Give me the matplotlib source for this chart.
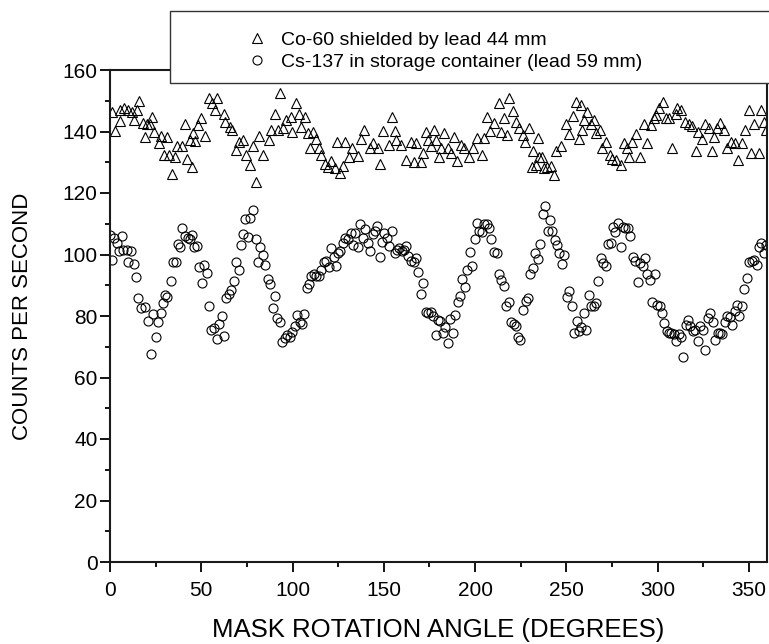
import matplotlib
matplotlib.use("Agg")
import matplotlib.pyplot as plt
import numpy as np
from matplotlib.patches import Rectangle
from matplotlib.ticker import MultipleLocator

plt.rcParams['font.family'] = ['Liberation Sans', 'DejaVu Sans']

# Co-60 shielded by lead 44 mm (angle in degrees, counts per second)
co_angle = [0.9, 2.7, 5.5, 5.5, 7.6, 10, 11.9, 13.3, 14.9, 16, 17.9, 19.1, 20, 21.9, 22.8, 24,
            26.9, 28.2, 29.5, 31.5, 32.3, 33.7, 35.5, 36.8, 39.2, 41, 42.3, 43.7, 44.7, 45.5,
            46.8, 48.3, 49.7, 51.9, 54.3, 56.1, 57.4, 58.8, 62.3, 62.9, 65.6, 67.1, 68.9, 70.8,
            72.7, 74.5, 76.6, 78.1, 80.2, 81.7, 83.9,
            87.1, 88.4, 90.2, 92.1, 93, 94.8, 96.6, 99.3, 99.9, 102, 103.5, 104.8, 106.6, 108.5,
            109.4, 111.2, 113, 114.5, 115.8, 117.6, 119.4, 121.2, 123.2, 124.3, 125.8, 127.6,
            128.5, 130.9, 132.7, 135.8, 137.6, 139.4, 142.2, 144, 146.7, 147.7, 149.5, 152.8,
            154.6, 155.9, 156.8, 159.5, 162.2, 165, 166.8, 167.7, 170.4,
            171.3, 173.2, 174.1, 175.9, 177.7, 178.6, 180.1, 181.4, 183.2, 185, 186.9, 188.7,
            190, 192.3, 194.2, 196.5, 198.7, 201, 203.8, 205.1, 206.4, 208.3, 210.6, 213, 214.2,
            216.1, 217.4, 218.8, 221, 222.4, 224.3, 226.4, 227.5, 229.7, 231.1, 231.9, 233.3,
            234.3, 234.8, 236.6, 237.9, 239.7, 241.6, 243.4, 244.4, 247.1, 249.8, 251.7, 253.9,
            255.3, 257.1,
            258, 258.9, 259.8, 261.6, 263.4, 265.3, 266.5, 268.4, 269.8, 271.6, 273.8, 275.3,
            277.4, 279.8, 281.6, 283.4, 284.4, 286.2, 288.4, 290.2, 292.6, 294.4, 296.2, 298.1,
            299.3, 300.8, 303, 304.8, 306.3, 308.1, 310, 310.9, 312.7, 315.1, 317.2, 319.1,
            320.9, 322.3, 324.5, 326.3, 328.2, 329.6, 330.9, 332.7, 334.5, 336.4, 338.2, 340,
            342.4, 344.2, 346.4, 348.2, 350.1, 351, 352.8, 355.6, 356.5, 358.3, 359.3]
co_counts = [146.4, 140.3, 146.9, 143.5, 147.5, 147.1, 146.4, 143.7, 147.1, 150, 142.9, 138.3,
             142.6, 142.6, 144.6, 139.9, 136.2, 138.6, 132.3, 138.1, 132.3, 126.3, 131.6, 135.2,
             135.2, 142.4, 131.2, 137.2, 128.3, 139.4, 137, 142.1, 144.3, 138.6, 151, 149.3,
             147.1, 151, 145.7, 143, 141.6, 140.5, 134, 136.5, 137.2, 132.5, 129.2, 135.2, 123.5,
             138.6, 132.5,
             137.2, 140.5, 145.7, 140.5, 152.4, 141, 143.8, 144.6, 139.9, 149.2, 145.7, 141.6,
             144.6, 139.4, 134.7, 139.9, 137.7, 134.7, 132.3, 129.5, 128.5, 130.4, 128, 136.6,
             126.6, 128.7, 136.6, 131.7, 134.7, 131.9, 137.7, 140.5, 134.7, 136.2, 134.7, 129.5,
             140.3, 135.7, 144.6, 140.3, 137.2, 135.7, 130.7, 136.7, 130.2, 136.2, 130.2,
             133.1, 139.9, 137.2, 135.2, 140.5, 137.2, 131.6, 134.7, 139.4, 134.7, 133.1, 138.3,
             130.4, 135.7, 134.7, 131.7, 134.7, 137.9, 132.5, 137.9, 144.6, 140.3, 142.9, 149.4,
             139.9, 144.3, 138.8, 151, 146.8, 143.1, 141, 138.8, 136.6, 141.3, 128.5, 133.8, 129,
             137.9, 131.7, 131.6, 128, 128.3, 128.7, 125.8, 133.5, 135.2, 142.4, 139.2, 145,
             149.7, 137.7,
             148.7, 140.5, 143.8, 146.4, 142.6, 143.8, 139.4, 140.5, 134.7, 136.6, 132.3, 131.2,
             130.7, 129, 136.2, 134.7, 131.6, 136.6, 139.2, 131.7, 142.6, 136.2, 142, 144.3,
             145.4, 147.5, 149.7, 144.3, 144.3, 134.7, 145.7, 147.5, 147.1, 143, 142.6, 141.7,
             133.8, 139.9, 137.7, 142.4, 141, 133.8, 138.3, 141, 142.9, 140.5, 134.7, 136.6,
             136.2, 130.7, 136.2, 140.5, 147.1, 133.1, 142.4, 133.1, 147.1, 143.1, 140.5]

# Cs-137 in storage container (lead 59 mm)
cs_angle = [0, 0.9, 2.4, 3.6, 4.9, 6.4, 7.3, 9.1, 10, 11.5, 13, 14.2, 15.5, 17, 19.1, 21, 22.2,
            23.7, 25, 26.4, 27.9, 29.2, 30.4, 31.5, 33.2, 34.3, 35.9, 37, 38.5, 39.6, 41, 42.5,
            43.8, 45, 46.1, 47.6, 49, 50.3, 51.6, 53.2, 54.5, 55.6, 57.1, 58.5, 59.8, 61.1, 62.3,
            63.8, 65.1, 66.5, 67.8, 69.3, 70.5, 72, 73.1, 74.2, 75.6, 76.9, 78.4, 79.8, 81.1,
            82.4, 83.8, 85.1, 86.4, 87.9, 89.3, 90.6, 91.7, 93, 94.4, 95.7, 97.2, 98.6, 99.7,
            101.2, 102.5, 103.9, 105.2, 106.5, 107.7, 109, 110.3, 111.7, 113, 114.5, 115.8,
            117.2, 118.5, 119.8, 121.2, 122.5, 123.8, 124.9, 126.3, 127.6, 128.9, 130.3, 131.8,
            133, 134.4, 135.8, 136.9, 138.4, 139.8, 141.3, 142.5, 144, 145.3, 146.4, 147.8,
            149.1, 150.4, 151.8, 153.1, 154.4, 155.9, 157.1, 158.6, 159.9, 161, 162.3, 163.5,
            165, 166.4, 167.7, 169, 170.4, 171.7, 172.9, 174.4, 175.9, 177.1,
            178.6, 179.6, 181, 182.3, 183.8, 185, 186.3, 187.8, 189, 190.5, 191.8, 193, 194.3,
            195.6, 197.1, 198.5, 199.8, 201.1, 202.3, 203.8, 205, 206.5, 207.8, 209, 210.5,
            211.8, 213.1, 214.3, 215.8, 217.1, 218.4, 219.6, 221.1, 222.4, 223.7, 224.9, 226.4,
            227.8, 229.1, 230.4, 231.6, 233.1, 234.4, 235.7, 237.1, 238.3, 239.8, 241.1, 242.3,
            243.6, 244.9, 246.2, 247.7, 249, 250.2, 251.7, 253, 254.2, 255.7, 257, 258.2, 259.5,
            261, 262.4, 263.7, 265.1, 266.3, 267.6, 268.9, 270.4, 271.9, 273.1, 274.4, 275.6,
            276.9, 278.2, 279.8, 280.9, 282.4, 283.8, 285.1, 286.4, 287.6, 289.1, 290.4, 291.8,
            293.1, 294.4, 295.8, 297.1, 298.4, 299.7, 301.1, 302.4, 303.7, 305, 306.2, 307.5,
            309, 310.4, 311.7, 313, 314.2, 315.5, 316.8, 318, 319.5, 320.8, 322.2, 323.5, 324.7,
            326.2, 327.4, 328.9, 330.3, 331.6, 332.9, 334.3, 335.5, 336.8, 338.2, 339.5, 341,
            342.2, 343.5, 344.8, 346.1, 347.4, 348.9, 350.1, 351.6, 352.9, 354.3, 355.6, 356.8,
            358.3, 359.4]
cs_counts = [106.3, 98.2, 105.3, 103.7, 101, 106, 101.6, 101.6, 97.4, 101.2, 97, 92.6, 86, 82.5,
             82.9, 78.5, 67.6, 80.7, 73.3, 78.2, 80.9, 84.1, 86.8, 86.1, 91.5, 97.4, 97.4, 103.5,
             102.4, 108.7, 106, 105.3, 104.9, 106.3, 102.4, 102.8, 95.8, 90.6, 96.6, 94, 83.3,
             75.6, 76, 72.5, 77.4, 80, 73.6, 85.8, 87.2, 88.3, 91.5, 97.7, 94.8, 103.1, 106.7,
             111.5, 105.6, 111.8, 114.5, 104.9, 97.4, 102.6, 99.9, 96.6, 92.1, 90.4, 82.5, 86.6,
             79.3, 77.9, 71.4, 72.8, 73.8, 73.1, 74.8, 76.8, 80.4, 78.2, 77.4, 80.7, 89, 90.5,
             93, 93.7, 93, 93, 94.8, 97.7, 98, 95.8, 102, 99.1, 96.3, 100.6, 101.2, 103.8, 105.3,
             104.9, 106.9, 103.1, 106.9, 102.4, 110, 105.3, 108.2, 103.8, 101.2, 106.7, 107.8,
             109.3, 99.1, 104.2, 106.9, 105.3, 102.8, 107.8, 100.6, 101.6, 102, 101.2, 101.4,
             102.8, 99.5, 98, 97.7, 98.7, 94.4, 87.2, 90.8, 81.4, 81.1, 81.4, 80,
             73.9, 78.8, 78.5, 74.4, 76.3, 71.1, 79, 74.6, 80.4, 84.7, 86.5, 91.9, 89.5, 94.8,
             100.9, 96.1, 105.1, 110.1, 107.8, 107.4, 109.9, 109.9, 108.5, 105.1, 100.9, 100.6,
             93.7, 91.7, 89.9, 83.3, 84.4, 78.2, 77.3, 76.8, 73.1, 72.3, 82, 85, 86, 93.7, 95.5,
             100.6, 98.5, 103.4, 113.2, 115.8, 107.8, 111.2, 107.8, 104.7, 103.1, 100.6, 96.9,
             99.9, 86.1, 88, 83.1, 74.4, 78.5, 75.2, 76.5, 80.9, 75.5, 86.8, 83.1, 83.1, 84.2,
             91.4, 98.7, 97.3, 96.2, 103.4, 103.8, 109, 107.4, 110.3, 102.4, 108.8, 108.5, 108.5,
             106, 99.3, 98, 91.2, 97.3, 96.3, 98.7, 93.7, 91.7, 84.7, 93.7, 83.6, 83.3, 81.1,
             77.6, 75.2, 74.6, 74.4, 74.2, 72, 74.2, 73.1, 66.8, 77.1, 78.8, 76.6, 75, 75.3, 72,
             76.6, 75.3, 69, 79.3, 81.1, 77.9, 72.2, 74.6, 74.6, 74.2, 77.9, 80, 79.8, 77.1, 81.7,
             83.6, 80, 83.3, 88.7, 92.3, 97.4, 98, 98.3, 96.7, 102.4, 103.8, 100.6, 103.1]

co_label = "Co-60 shielded by lead 44 mm"
cs_label = "Cs-137 in storage container (lead 59 mm)"

fig = plt.figure(figsize=(7.69, 6.44), dpi=100)
ax = fig.add_axes([110 / 769, 82 / 644, 657 / 769, 492 / 644])

ax.plot(co_angle, co_counts, linestyle="none", marker="^", markersize=7.5,
        markerfacecolor="none", markeredgecolor="black", markeredgewidth=0.8, label=co_label)
ax.plot(cs_angle, cs_counts, linestyle="none", marker="o", markersize=6.5,
        markerfacecolor="none", markeredgecolor="black", markeredgewidth=0.8, label=cs_label)

ax.set_xlim(0, 360)
ax.set_ylim(0, 160)
ax.xaxis.set_major_locator(MultipleLocator(50))
ax.xaxis.set_minor_locator(MultipleLocator(25))
ax.yaxis.set_major_locator(MultipleLocator(20))
ax.yaxis.set_minor_locator(MultipleLocator(10))
ax.tick_params(which="major", direction="out", length=7, width=1.3, labelsize=15, pad=2)
ax.tick_params(axis="x", which="major", pad=7)
ax.tick_params(which="minor", direction="out", length=3.5, width=1.3)
for side in ["left", "bottom", "top", "right"]:
    ax.spines[side].set_linewidth(1.5)
    ax.spines[side].set_color("#1a1a1a")

ax.set_xlabel("MASK ROTATION ANGLE (DEGREES)", fontsize=18.5, labelpad=13)
ax.set_ylabel("COUNTS PER SECOND", fontsize=16, labelpad=21)

# legend box sits over the top edge of the axes
box = Rectangle((170 / 769, (644 - 83) / 644), 0.8, 72 / 644, transform=fig.transFigure,
                facecolor="white", edgecolor="#333333", linewidth=1.0, zorder=5)
fig.add_artist(box)
leg = fig.legend(loc="center left", bbox_to_anchor=(247 / 769, (644 - 51) / 644),
                 frameon=False, fontsize=14, borderpad=0, borderaxespad=0,
                 handlelength=1.0, handletextpad=0.74, labelspacing=0.25, markerscale=1.0)
leg.set_zorder(6)

fig.savefig("out.png", dpi=100)
